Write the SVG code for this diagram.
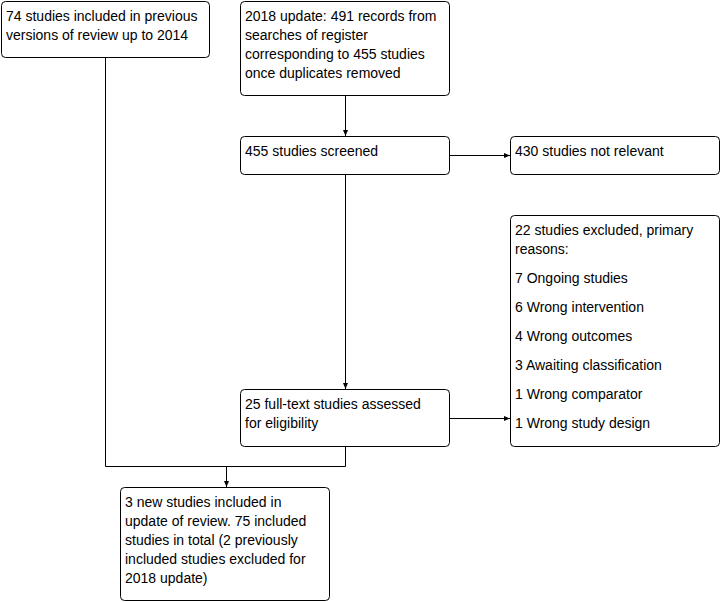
<svg xmlns="http://www.w3.org/2000/svg" width="721" height="602" viewBox="0 0 721 602">
<style>
.box{fill:#fff;stroke:#000;stroke-width:1}
text{font-family:"Liberation Sans",Arial,sans-serif;font-size:14px;fill:#000}
.c{fill:none;stroke:#000;stroke-width:1}
</style>
<defs>
<marker id="ah" markerWidth="6" markerHeight="6" refX="6" refY="3" orient="auto" markerUnits="userSpaceOnUse">
<path d="M0,0.5 L6,3 L0,5.5 Z" fill="#000"/>
</marker>
</defs>
<rect width="721" height="602" fill="#fff"/>
<g id="connectors">
<path class="c" d="M105.5,57 V466.5 H345.5 V446"/>
<path class="c" d="M226.5,466.5 V487" marker-end="url(#ah)"/>
<path class="c" d="M345.5,95 V136" marker-end="url(#ah)"/>
<path class="c" d="M345.5,174 V389" marker-end="url(#ah)"/>
<path class="c" d="M449,155.5 H510" marker-end="url(#ah)"/>
<path class="c" d="M449,418.5 H510" marker-end="url(#ah)"/>
</g>
<g id="prev">
<rect class="box" x="1.5" y="1.5" width="208" height="56" rx="4"/>
<text x="6" y="20.5">74 studies included in previous</text>
<text x="6" y="39.5">versions of review up to 2014</text>
</g>
<g id="update">
<rect class="box" x="240.5" y="1.5" width="209" height="94" rx="4"/>
<text x="245" y="20.5">2018 update: 491 records from</text>
<text x="245" y="39.5">searches of register</text>
<text x="245" y="58.5">corresponding to 455 studies</text>
<text x="245" y="77.5">once duplicates removed</text>
</g>
<g id="screened">
<rect class="box" x="240.5" y="136.5" width="209" height="38" rx="4"/>
<text x="245" y="156">455 studies screened</text>
</g>
<g id="notrelevant">
<rect class="box" x="510.5" y="136.5" width="209" height="38" rx="4"/>
<text x="515" y="156">430 studies not relevant</text>
</g>
<g id="excluded">
<rect class="box" x="510.5" y="215.5" width="209" height="231" rx="4"/>
<text x="515" y="235">22 studies excluded, primary</text>
<text x="515" y="254">reasons:</text>
<text x="515" y="283">7 Ongoing studies</text>
<text x="515" y="312">6 Wrong intervention</text>
<text x="515" y="341">4 Wrong outcomes</text>
<text x="515" y="370">3 Awaiting classification</text>
<text x="515" y="399">1 Wrong comparator</text>
<text x="515" y="428">1 Wrong study design</text>
</g>
<g id="fulltext">
<rect class="box" x="240.5" y="389.5" width="209" height="57" rx="4"/>
<text x="245" y="409">25 full-text studies assessed</text>
<text x="245" y="428">for eligibility</text>
</g>
<g id="included">
<rect class="box" x="120.5" y="487.5" width="209" height="113" rx="4"/>
<text x="125" y="507">3 new studies included in</text>
<text x="125" y="526">update of review. 75 included</text>
<text x="125" y="545">studies in total (2 previously</text>
<text x="125" y="564">included studies excluded for</text>
<text x="125" y="583">2018 update)</text>
</g>
</svg>
